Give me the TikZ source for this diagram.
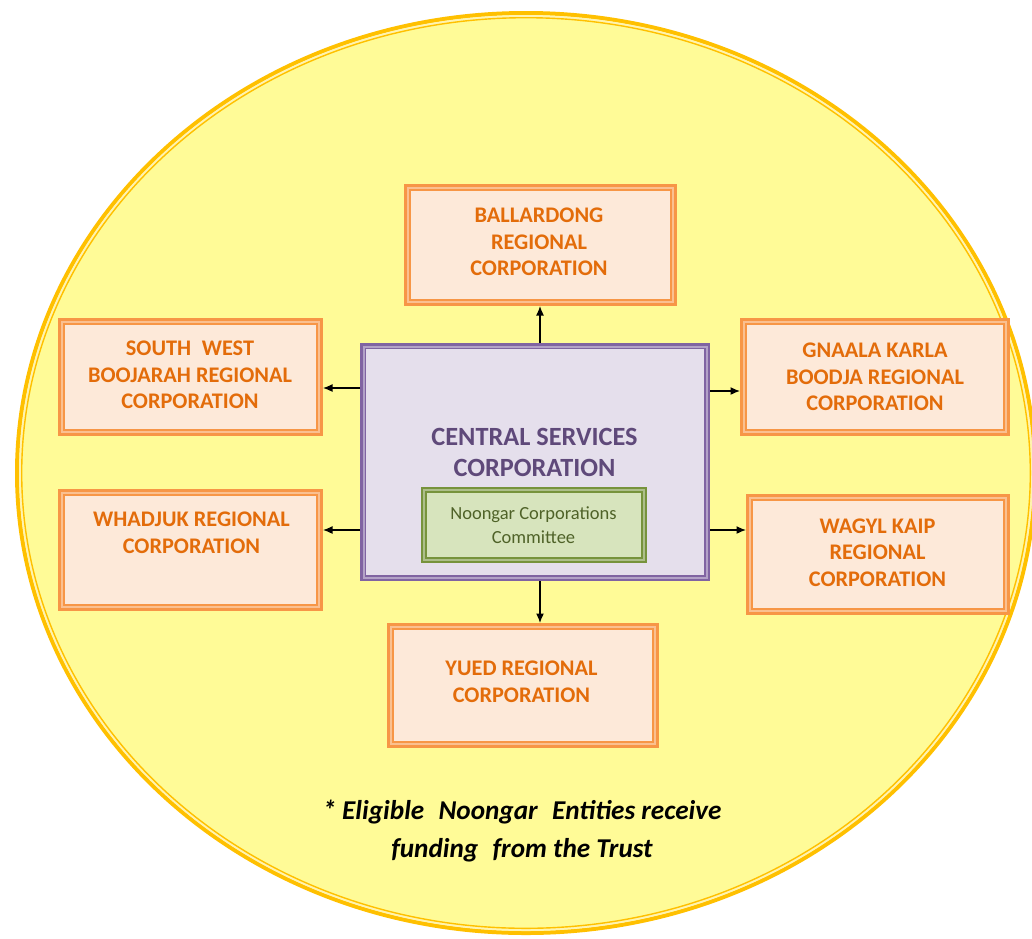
\documentclass[tikz,border=0pt]{standalone}
\usepackage{fontspec}
\setmainfont{Carlito}
\usetikzlibrary{arrows.meta}
\definecolor{ellfill}{HTML}{FFFB97}
\definecolor{ellline}{HTML}{FFC000}
\definecolor{ellgap}{HTML}{FFF3B0}
\definecolor{orline}{HTML}{F79646}
\definecolor{orfill}{HTML}{FDE9D9}
\definecolor{ortext}{HTML}{E36C0A}
\definecolor{puline}{HTML}{8064A2}
\definecolor{pufill}{HTML}{E5DFEC}
\definecolor{putext}{HTML}{5F497A}
\definecolor{grline}{HTML}{77933C}
\definecolor{grfill}{HTML}{D7E4BD}
\definecolor{grtext}{HTML}{4F6228}
\newcommand\myinframe[4]{% node, inset gap, inset line, colour
  \draw[#4!60!white, line width=2pt] ([xshift=#2pt,yshift=#2pt]#1.south west) rectangle ([xshift=-#2pt,yshift=-#2pt]#1.north east);
  \draw[#4, line width=1.6pt] ([xshift=#3pt,yshift=#3pt]#1.south west) rectangle ([xshift=-#3pt,yshift=-#3pt]#1.north east);}
\begin{document}
\begin{tikzpicture}[x=1pt,y=-1pt,
  orgbox/.style={draw=orline, line width=6pt, fill=orfill, inner sep=0pt},
  orgtext/.style={align=center, text=ortext, font=\bfseries\fontsize{22.3}{26.5}\selectfont, inner sep=0pt},
  cenbox/.style={draw=puline, line width=5pt, fill=pufill, inner sep=0pt},
  cmtbox/.style={draw=grline, line width=4.5pt, fill=grfill, inner sep=0pt},
  arr/.style={draw=black, line width=1.3pt, -{Latex[length=9.5pt,width=8pt]}}]
\useasboundingbox (0,0) rectangle (1032,938);
\clip (0,0) rectangle (1032,938);
% background ellipse
\fill[ellfill] (526,473) ellipse [x radius=510, y radius=461];
\draw[ellline, line width=4pt] (526,473) ellipse [x radius=509, y radius=460];
\draw[ellgap, line width=2pt] (526,473) ellipse [x radius=506, y radius=457];
\draw[ellline, line width=1.4pt] (526,473) ellipse [x radius=504.3, y radius=455.3];
% boxes
\node[orgbox, minimum width=267pt, minimum height=116pt] (bal) at (540.5,245) {};
\node[orgbox, minimum width=259pt, minimum height=112pt] (sw) at (190.5,377) {};
\node[orgbox, minimum width=259pt, minimum height=116pt] (wh) at (190.5,550) {};
\node[orgbox, minimum width=264pt, minimum height=112pt] (gk) at (875,377) {};
\node[orgbox, minimum width=258pt, minimum height=115pt] (wk) at (878,554.5) {};
\node[orgbox, minimum width=266pt, minimum height=119pt] (yu) at (523,685.5) {};
\node[cenbox, minimum width=345pt, minimum height=233pt] (cen) at (535,462) {};
\foreach \n in {bal,sw,wh,gk,wk,yu}{\myinframe{\n}{4}{6}{orline}}
\myinframe{cen}{3.5}{5.5}{puline}
\node[cmtbox, minimum width=221.5pt, minimum height=71.5pt] (cmt) at (534,525) {};
\myinframe{cmt}{3.3}{5.2}{grline}
% texts
\node[orgtext] (balt) at (539,242) {BALLARDONG\\REGIONAL\\CORPORATION};
\node[orgtext] (swt) at (190,375) {SOUTH\hspace{0.25em} WEST\\BOOJARAH REGIONAL\\CORPORATION};
\node[orgtext] (wht) at (191.5,533) {WHADJUK REGIONAL\\CORPORATION};
\node[orgtext] (gkt) at (875,377) {GNAALA KARLA\\BOODJA REGIONAL\\CORPORATION};
\node[orgtext] (wkt) at (877.5,552.5) {WAGYL KAIP\\REGIONAL\\CORPORATION};
\node[orgtext] (yut) at (521.5,681.5) {YUED REGIONAL\\CORPORATION};
\node[align=center, text=putext, font=\bfseries\fontsize{26.3}{31}\selectfont, inner sep=0pt] (cent) at (534.5,452.5) {CENTRAL SERVICES\\CORPORATION};
\node[align=center, text=grtext, font=\fontsize{18.5}{24}\selectfont, inner sep=0pt] (cmtt) at (533.5,525) {Noongar Corporations\\Committee};
\node[align=center, text=black, font=\bfseries\itshape\fontsize{27.2}{38}\selectfont, inner sep=0pt] (note) at (522,831) {* Eligible\hspace{0.3em} Noongar\hspace{0.3em} Entities receive\\funding\hspace{0.3em} from the Trust};
% connectors
\coordinate (swin) at ([yshift=-11pt]sw.east);
\coordinate (whin) at ([yshift=20pt]wh.east);
\coordinate (gkin) at ([yshift=-14pt]gk.west);
\coordinate (wkin) at ([yshift=24.5pt]wk.west);
\draw[arr] ([xshift=5pt]cen.north) -- ([xshift=5pt]cen.north |- bal.south);
\draw[arr] ([xshift=5pt]cen.south) -- ([xshift=5pt]cen.south |- yu.north);
\draw[arr] (cen.west |- swin) -- (swin);
\draw[arr] (cen.west |- whin) -- (whin);
\draw[arr] (cen.east |- gkin) -- (gkin);
\draw[arr] (cen.east |- wkin) -- (wkin);
\end{tikzpicture}
\end{document}
